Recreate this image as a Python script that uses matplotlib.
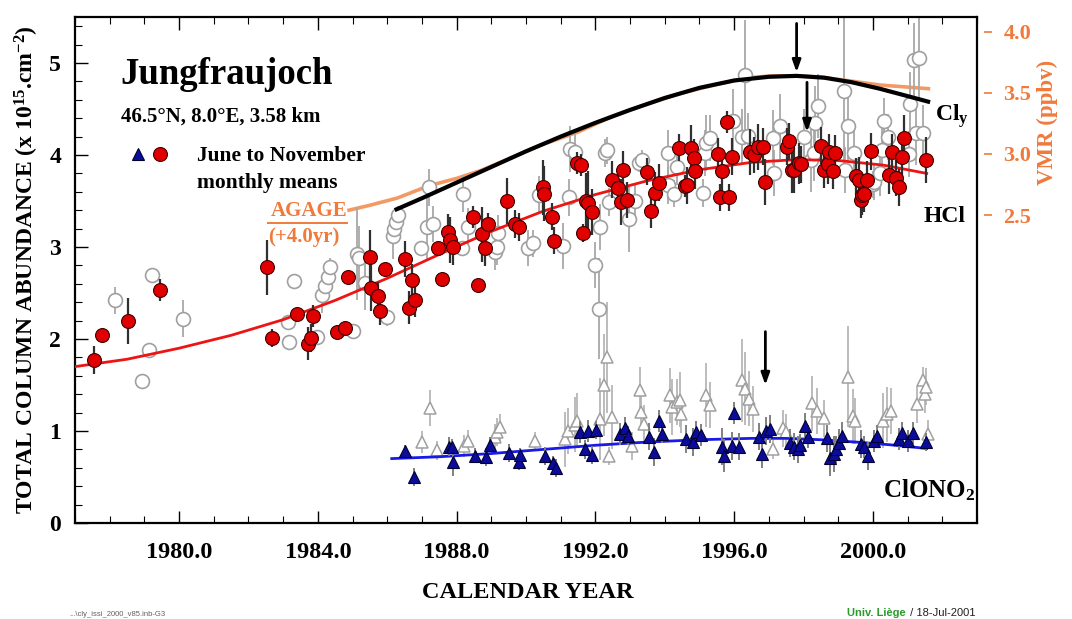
import matplotlib
matplotlib.use("Agg")
import matplotlib.pyplot as plt
from matplotlib.lines import Line2D
from matplotlib.legend_handler import HandlerTuple
from matplotlib.ticker import MultipleLocator, FixedLocator, FormatStrFormatter

# ---------------- data ----------------
# HCl, June-November monthly means (filled red)
hcl_jn_year = [1977.54, 1977.78, 1978.53, 1979.45, 1982.54, 1982.69, 1983.41, 1983.73, 1983.79, 1983.87,
               1984.54, 1984.77, 1984.88, 1985.49, 1985.52, 1985.72, 1985.80, 1985.93, 1986.50, 1986.62,
               1986.70, 1986.79, 1987.46, 1987.57, 1987.75, 1987.80, 1987.89, 1988.47, 1988.61, 1988.73,
               1988.82, 1988.90, 1989.45, 1989.68, 1989.80, 1990.49, 1990.52, 1990.76, 1990.80, 1991.47,
               1991.59, 1991.65, 1991.73, 1991.79, 1991.91, 1992.49, 1992.66, 1992.75, 1992.80, 1992.92,
               1993.50, 1993.61, 1993.73, 1993.84, 1994.42, 1994.57, 1994.65, 1994.77, 1994.83, 1994.88,
               1995.52, 1995.58, 1995.66, 1995.78, 1995.84, 1995.95, 1996.47, 1996.56, 1996.68, 1996.82,
               1996.88, 1997.51, 1997.57, 1997.66, 1997.72, 1997.86, 1997.92, 1998.50, 1998.58, 1998.70,
               1998.73, 1998.84, 1998.90, 1999.51, 1999.60, 1999.65, 1999.68, 1999.74, 1999.83, 1999.94,
               2000.46, 2000.55, 2000.66, 2000.75, 2000.84, 2000.90, 2001.53]
hcl_jn_val = [1.77, 2.04, 2.20, 2.53, 2.78, 2.01, 2.27, 1.95, 2.01, 2.25,
              2.08, 2.12, 2.67, 2.89, 2.55, 2.47, 2.30, 2.76, 2.87, 2.34,
              2.64, 2.42, 2.99, 2.65, 3.16, 3.08, 3.00, 3.33, 2.59, 3.14,
              2.99, 3.25, 3.50, 3.25, 3.22, 3.65, 3.58, 3.33, 3.07, 3.91,
              3.89, 3.15, 3.50, 3.48, 3.38, 3.73, 3.64, 3.49, 3.84, 3.51,
              3.82, 3.39, 3.59, 3.70, 4.08, 3.66, 3.67, 4.08, 3.97, 3.83,
              4.01, 3.54, 3.83, 4.36, 3.54, 3.98, 4.03, 4.00, 4.09, 4.09,
              3.71, 4.09, 4.15, 3.84, 3.84, 3.91, 3.90, 4.10, 3.84, 3.90,
              4.03, 3.83, 4.02, 3.77, 3.73, 3.51, 3.57, 3.58, 3.73, 4.04,
              3.78, 4.03, 3.75, 3.65, 3.98, 4.18, 3.95]
hcl_jn_err = [0.15, 0.06, 0.25, 0.12, 0.30, 0.10, 0.08, 0.18, 0.15, 0.12,
              0.05, 0.08, 0.05, 0.30, 0.25, 0.15, 0.15, 0.05, 0.20, 0.18,
              0.18, 0.18, 0.05, 0.05, 0.20, 0.25, 0.20, 0.12, 0.05, 0.30,
              0.20, 0.12, 0.25, 0.15, 0.15, 0.30, 0.30, 0.15, 0.15, 0.12,
              0.12, 0.10, 0.30, 0.35, 0.25, 0.20, 0.20, 0.25, 0.20, 0.20,
              0.15, 0.18, 0.22, 0.20, 0.15, 0.12, 0.20, 0.25, 0.20, 0.20,
              0.18, 0.15, 0.22, 0.12, 0.15, 0.20, 0.25, 0.20, 0.25, 0.20,
              0.25, 0.20, 0.20, 0.25, 0.25, 0.22, 0.20, 0.20, 0.20, 0.22,
              0.20, 0.20, 0.20, 0.20, 0.25, 0.20, 0.22, 0.20, 0.20, 0.20,
              0.20, 0.20, 0.20, 0.20, 0.25, 0.25, 0.25]

# HCl, other months (open grey)
hcl_oth_year = [1978.15, 1978.93, 1979.13, 1979.22, 1980.12, 1983.15, 1983.18, 1983.32, 1983.99, 1984.13,
                1984.22, 1984.28, 1984.36, 1985.00, 1985.14, 1985.20, 1985.35, 1985.98, 1986.16, 1986.20,
                1986.24, 1986.30, 1986.97, 1987.14, 1987.20, 1987.31, 1988.15, 1988.18, 1988.32, 1989.10,
                1989.16, 1989.19, 1990.06, 1990.20, 1990.38, 1991.07, 1991.24, 1991.27, 1991.42, 1991.99,
                1992.11, 1992.14, 1992.28, 1992.34, 1992.40, 1992.98, 1993.15, 1993.27, 1993.35, 1994.08,
                1994.10, 1994.28, 1994.34, 1995.09, 1995.17, 1995.20, 1995.29, 1995.98, 1996.24, 1996.30,
                1996.39, 1997.11, 1997.15, 1997.31, 1998.00, 1998.21, 1998.30, 1998.32, 1998.41, 1999.16,
                1999.20, 1999.28, 1999.45, 1999.99, 2000.03, 2000.20, 2000.26, 2000.32, 2000.43, 2001.04,
                2001.07, 2001.19, 2001.24, 2001.33, 2001.45]
hcl_oth_val = [2.42, 1.54, 1.88, 2.70, 2.22, 2.18, 1.97, 2.63, 2.02, 2.48,
               2.58, 2.67, 2.78, 2.09, 2.92, 2.88, 2.61, 2.24, 3.12, 3.20,
               3.27, 3.35, 2.99, 3.22, 3.65, 3.25, 2.99, 3.58, 3.22, 2.95,
               3.00, 3.15, 2.99, 3.04, 3.57, 3.01, 3.54, 4.07, 4.03, 2.80,
               2.33, 3.22, 4.02, 4.05, 3.49, 3.30, 3.50, 3.91, 3.95, 4.02,
               3.67, 3.58, 3.87, 3.59, 4.02, 4.13, 4.18, 4.37, 4.20, 4.87,
               4.21, 4.19, 3.80, 4.31, 4.20, 3.95, 4.02, 4.35, 4.53, 4.70,
               3.84, 4.32, 4.02, 3.68, 3.71, 3.80, 4.05, 4.37, 4.20, 4.01,
               4.55, 5.03, 4.24, 5.05, 4.24]
hcl_oth_err = [0.15, 0.05, 0.05, 0.05, 0.20, 0.05, 0.05, 0.05, 0.05, 0.20,
               0.10, 0.10, 0.10, 0.05, 0.50, 0.35, 0.30, 0.10, 0.25, 0.15,
               0.10, 0.10, 0.05, 0.35, 0.20, 0.20, 0.05, 0.20, 0.20, 0.20,
               0.20, 0.20, 0.20, 0.15, 0.20, 0.25, 0.20, 0.25, 0.20, 0.25,
               0.55, 0.25, 0.15, 0.15, 0.15, 0.35, 0.20, 0.10, 0.10, 0.25,
               0.20, 0.15, 0.20, 0.15, 0.25, 0.30, 0.25, 0.35, 0.30, 0.60,
               0.25, 0.30, 0.25, 0.35, 0.30, 0.35, 0.30, 0.40, 0.35, 0.80,
               0.25, 0.40, 0.30, 0.15, 0.20, 0.25, 0.30, 0.25, 0.25, 0.25,
               0.35, 0.40, 0.35, 0.45, 0.30]

# ClONO2, June-November (filled blue)
clono2_jn_year = [1986.50, 1986.76, 1987.77, 1987.86, 1987.90, 1988.53, 1988.84, 1988.96, 1989.51, 1989.80,
                  1989.83, 1990.55, 1990.78, 1990.87, 1991.56, 1991.70, 1991.79, 1991.90, 1992.02, 1992.72,
                  1992.86, 1992.95, 1993.55, 1993.70, 1993.82, 1993.93, 1994.60, 1994.80, 1994.91, 1995.03,
                  1995.64, 1995.72, 1995.94, 1996.00, 1996.14, 1996.73, 1996.79, 1996.91, 1997.02, 1997.60,
                  1997.72, 1997.83, 1997.89, 1998.03, 1998.12, 1998.67, 1998.76, 1998.87, 1998.93, 1999.02,
                  1999.10, 1999.65, 1999.74, 1999.86, 2000.03, 2000.12, 2000.75, 2000.84, 2001.01, 2001.16,
                  2001.53]
clono2_jn_val = [0.78, 0.50, 0.83, 0.83, 0.66, 0.73, 0.72, 0.85, 0.76, 0.66,
                 0.74, 0.73, 0.65, 0.60, 0.99, 0.80, 1.00, 0.74, 1.01, 0.97,
                 1.03, 0.95, 0.94, 0.77, 1.11, 0.97, 0.91, 0.88, 0.99, 0.96,
                 0.83, 0.73, 0.84, 1.20, 0.83, 0.94, 0.75, 1.00, 1.02, 0.87,
                 0.83, 0.80, 0.85, 1.05, 0.94, 0.92, 0.71, 0.75, 0.80, 0.87,
                 0.95, 0.86, 0.83, 0.73, 0.89, 0.95, 0.91, 0.98, 0.89, 0.98,
                 0.88]
clono2_jn_err = [0.07, 0.10, 0.10, 0.08, 0.15, 0.08, 0.10, 0.08, 0.10, 0.08,
                 0.08, 0.10, 0.08, 0.10, 0.12, 0.10, 0.12, 0.10, 0.10, 0.12,
                 0.12, 0.10, 0.15, 0.15, 0.12, 0.10, 0.15, 0.15, 0.12, 0.12,
                 0.20, 0.18, 0.15, 0.12, 0.15, 0.15, 0.15, 0.15, 0.15, 0.15,
                 0.15, 0.15, 0.12, 0.15, 0.12, 0.15, 0.20, 0.20, 0.15, 0.15,
                 0.15, 0.15, 0.12, 0.15, 0.12, 0.12, 0.12, 0.12, 0.12, 0.12,
                 0.10]

# ClONO2, other months (open grey)
clono2_oth_year = [1986.99, 1987.23, 1987.43, 1988.21, 1988.33, 1989.10, 1989.16, 1989.25, 1990.26, 1991.13,
                   1991.21, 1991.41, 1991.47, 1992.14, 1992.26, 1992.34, 1992.40, 1992.48, 1993.06, 1993.29,
                   1993.32, 1993.41, 1994.16, 1994.22, 1994.34, 1994.45, 1994.48, 1995.20, 1995.29, 1996.24,
                   1996.30, 1996.44, 1996.53, 1997.11, 1997.40, 1997.50, 1998.24, 1998.38, 1998.58, 1999.28,
                   1999.42, 1999.48, 2000.29, 2000.40, 2000.52, 2001.27, 2001.45, 2001.50, 2001.53, 2001.60]
clono2_oth_val = [0.88, 1.25, 0.79, 0.84, 0.89, 0.93, 0.99, 1.04, 0.89, 0.91,
                  1.00, 1.07, 1.11, 1.13, 1.50, 1.80, 0.73, 1.15, 0.84, 1.45,
                  1.21, 1.08, 1.39, 1.26, 1.32, 1.34, 1.18, 1.39, 1.28, 1.55,
                  1.46, 1.35, 1.24, 0.80, 1.03, 0.99, 1.30, 1.22, 1.14, 1.59,
                  1.16, 1.11, 1.11, 1.18, 1.22, 1.29, 1.55, 1.40, 1.48, 0.97]
clono2_oth_err = [0.12, 0.20, 0.10, 0.12, 0.12, 0.15, 0.15, 0.15, 0.10, 0.30,
                  0.25, 0.30, 0.30, 0.45, 0.55, 0.60, 0.10, 0.35, 0.15, 0.25,
                  0.20, 0.20, 0.30, 0.30, 0.25, 0.30, 0.20, 0.35, 0.25, 0.45,
                  0.40, 0.30, 0.25, 0.10, 0.20, 0.20, 0.30, 0.25, 0.20, 0.55,
                  0.30, 0.25, 0.30, 0.30, 0.25, 0.20, 0.15, 0.20, 0.20, 0.15]

# Fitted curves
hcl_fit_year = [1977.0, 1978.5, 1980.0, 1981.5, 1983.0, 1984.5, 1986.0, 1987.5, 1989.0, 1990.5,
                1992.0, 1993.5, 1995.0, 1996.5, 1997.8, 1999.0, 2000.3, 2001.55]
hcl_fit_val = [1.70, 1.78, 1.90, 2.04, 2.21, 2.42, 2.66, 2.92, 3.17, 3.39,
               3.57, 3.72, 3.84, 3.92, 3.95, 3.94, 3.89, 3.80]

cly_year = [1986.27, 1987.0, 1988.0, 1989.0, 1990.0, 1991.0, 1992.0, 1993.0, 1994.0, 1995.0,
            1996.0, 1997.0, 1997.8, 1998.6, 1999.4, 2000.2, 2000.9, 2001.59]
cly_val = [3.41, 3.53, 3.70, 3.87, 4.04, 4.20, 4.35, 4.49, 4.62, 4.73,
           4.81, 4.85, 4.86, 4.84, 4.79, 4.72, 4.65, 4.58]

clono2_fit_year = [1986.13, 1987.5, 1989.0, 1990.5, 1992.0, 1993.5, 1995.0, 1996.5, 1997.5, 1998.5,
                   1999.5, 2000.5, 2001.55]
clono2_fit_val = [0.70, 0.72, 0.755, 0.80, 0.845, 0.88, 0.905, 0.92, 0.92, 0.905,
                  0.88, 0.85, 0.81]

# AGAGE (+4.0 yr), in ppbv on the right axis
agage_year = [1984.9, 1985.5, 1986.3, 1987.2, 1988.0, 1988.7, 1989.5, 1990.4, 1991.5, 1992.5,
              1993.5, 1994.5, 1995.5, 1996.4, 1997.1, 1997.8, 1998.5, 1999.3, 2000.2, 2000.9, 2001.6]
agage_vmr = [2.54, 2.58, 2.64, 2.74, 2.80, 2.865, 2.96, 3.07, 3.18, 3.31,
             3.41, 3.50, 3.57, 3.625, 3.64, 3.64, 3.63, 3.60, 3.565, 3.55, 3.535]

# Arrows (year, top, tip)
arrow_year = [1997.8, 1998.1, 1996.9]
arrow_top = [5.43, 4.79, 2.08]
arrow_tip = [4.90, 4.25, 1.50]

x_major = [1980, 1984, 1988, 1992, 1996, 2000]
vmr_ticks = [2.5, 3.0, 3.5, 4.0]

# ---------------- style ----------------
SERIF = "Liberation Serif"
plt.rcParams["font.family"] = [SERIF, "DejaVu Serif"]
plt.rcParams["font.weight"] = "bold"
plt.rcParams["mathtext.fontset"] = "custom"
plt.rcParams["mathtext.rm"] = "Liberation Serif:bold"
plt.rcParams["mathtext.it"] = "Liberation Serif:bold"
plt.rcParams["mathtext.bf"] = "Liberation Serif:bold"
plt.rcParams["mathtext.default"] = "rm"

RED = "#e00000"
BLUE = "#0c0c9c"
ORANGE = "#f07a3c"
AGAGE_LINE = "#f39a64"
GREY_OPEN = "#a0a0a0"

W, H = 1072, 619
fig = plt.figure(figsize=(W / 100, H / 100), dpi=100)
ax = fig.add_axes([75 / W, 1 - 523 / H, (977 - 75) / W, (523 - 17) / H])


def fx(px):
    return px / W


def fy(py):
    return 1 - py / H


# open (other months) points
ax.errorbar(hcl_oth_year, hcl_oth_val, yerr=hcl_oth_err, fmt="o", ms=10, mfc="white",
            mec=GREY_OPEN, mew=1.2, ecolor="#a8a8a8", elinewidth=1.3, capsize=0, zorder=2)
ax.errorbar(clono2_oth_year, clono2_oth_val, yerr=clono2_oth_err, fmt="^", ms=8.5, mfc="white",
            mec=GREY_OPEN, mew=1.1, ecolor="#b0b0b0", elinewidth=1.2, capsize=0, zorder=2)

# fitted curves
ax.plot(hcl_fit_year, hcl_fit_val, color="#ee1414", lw=2.0, zorder=3)
ax.plot(cly_year, cly_val, color="black", lw=3.0, zorder=4)
ax.plot(clono2_fit_year, clono2_fit_val, color="#1a1ae6", lw=2.0, zorder=3)

# June-November points
ax.errorbar(clono2_jn_year, clono2_jn_val, yerr=clono2_jn_err, fmt="^", ms=8.5, mfc=BLUE,
            mec="#000030", mew=0.8, ecolor="#808080", elinewidth=1.4, capsize=0, zorder=5)
ax.errorbar(hcl_jn_year, hcl_jn_val, yerr=hcl_jn_err, fmt="o", ms=10, mfc=RED,
            mec="#400000", mew=0.8, ecolor="#303030", elinewidth=1.6, capsize=0, zorder=5)

# arrows
for xa, yt, yb in zip(arrow_year, arrow_top, arrow_tip):
    ax.annotate("", xy=(xa, yb), xytext=(xa, yt),
                arrowprops=dict(arrowstyle="-|>,head_length=0.7,head_width=0.25", lw=2.0,
                                color="black", shrinkA=0, shrinkB=0), zorder=6)

# axes
ax.set_xlim(1977.0, 2003.0)
ax.set_ylim(0, 5.5)
ax.xaxis.set_major_locator(FixedLocator(x_major))
ax.xaxis.set_minor_locator(MultipleLocator(1))
ax.xaxis.set_major_formatter(FormatStrFormatter("%.1f"))
ax.yaxis.set_major_locator(MultipleLocator(1))
ax.yaxis.set_minor_locator(MultipleLocator(0.2))
ax.tick_params(axis="both", which="both", direction="in", top=True, right=False)
ax.tick_params(axis="both", which="major", length=9, width=1.0)
ax.tick_params(axis="both", which="minor", length=5, width=0.8)
ax.tick_params(axis="x", which="major", pad=14, labelsize=17.5)
ax.tick_params(axis="y", which="major", pad=10, labelsize=17)
for lab in ax.get_xticklabels() + ax.get_yticklabels():
    lab.set_fontweight("bold")
for s in ax.spines.values():
    s.set_linewidth(1.6)

# right axis (VMR)
ax2 = ax.twinx()
ax2.set_ylim((0 - 0.03) / 1.327, (5.5 - 0.03) / 1.327)
ax2.plot(agage_year, agage_vmr, color=AGAGE_LINE, lw=2.6, zorder=1)
ax2.set_zorder(0)
ax.set_zorder(1)
ax.patch.set_visible(False)
ax2.yaxis.set_major_locator(FixedLocator(vmr_ticks))
ax2.yaxis.set_major_formatter(FormatStrFormatter("%.1f"))
ax2.spines["right"].set_position(("outward", 5))
ax2.spines["right"].set_visible(False)
for k in ("left", "top", "bottom"):
    ax2.spines[k].set_visible(False)
ax2.tick_params(axis="y", which="major", direction="out", length=6, width=1.2, color=ORANGE,
                labelcolor=ORANGE, labelsize=16, pad=8)
for lab in ax2.get_yticklabels():
    lab.set_fontweight("bold")

# legend
h_tri = Line2D([], [], ls="none", marker="^", ms=8.5, mfc=BLUE, mec="#000030", mew=0.8)
h_circ = Line2D([], [], ls="none", marker="o", ms=10, mfc=RED, mec="#400000", mew=0.8)
h_blank = Line2D([], [], ls="none")
ax.legend([(h_tri, h_circ), h_blank], ["June to November", "monthly means"],
          handler_map={tuple: HandlerTuple(ndivide=None, pad=0)},
          loc="upper left", bbox_to_anchor=((127 - 75) / 902, (523 - 146) / 506),
          frameon=False, prop=dict(family=SERIF, weight="bold", size=15.5),
          handlelength=2.05, handletextpad=1.2, labelspacing=0.3, borderpad=0, borderaxespad=0)

# texts
fig.text(fx(120), fy(75), "Jungfraujoch", fontsize=26.5, fontweight="bold", ha="left", va="center")
fig.text(fx(121), fy(117), "46.5°N, 8.0°E, 3.58 km", fontsize=15, fontweight="bold",
         ha="left", va="center")
fig.text(fx(347), fy(211), "AGAGE", fontsize=15, fontweight="bold", color=ORANGE,
         ha="right", va="center")
fig.add_artist(Line2D([fx(268), fx(347)], [fy(223), fy(223)], color=ORANGE, lw=1.4))
fig.text(fx(268), fy(237), "(+4.0yr)", fontsize=15, fontweight="bold", color=ORANGE,
         ha="left", va="center")
fig.text(fx(935), fy(116), r"Cl$_\mathregular{y}$", fontsize=17, fontweight="bold",
         ha="left", va="center")
fig.text(fx(924), fy(217), "HCl", fontsize=17, fontweight="bold", ha="left", va="center")
fig.text(fx(975), fy(490), r"ClONO$_\mathregular{2}$", fontsize=18, fontweight="bold",
         ha="right", va="center")

fig.text(fx(528), fy(592), "CALENDAR YEAR", fontsize=17.5, fontweight="bold",
         ha="center", va="center")
fig.text(fx(27), fy(270), r"TOTAL COLUMN ABUNDANCE (x 10$^{15}$.cm$^{-2}$)", fontsize=17,
         fontweight="bold", rotation=90, ha="center", va="center")
fig.text(fx(1047), fy(122), "VMR (ppbv)", fontsize=16.5, fontweight="bold", color=ORANGE,
         rotation=90, ha="center", va="center")

fig.text(fx(69), fy(614), "...\\cly_issi_2000_v85.inb-G3", fontsize=5.5, color="#606060",
         family="Liberation Sans", fontweight="normal", ha="left", va="center")
fig.text(fx(906), fy(613), "Univ. Liège", fontsize=8, color="#2a9a2a", family="Liberation Sans",
         fontweight="bold", ha="right", va="center")
fig.text(fx(907), fy(613), " / 18-Jul-2001", fontsize=8, color="#202020", family="Liberation Sans",
         fontweight="normal", ha="left", va="center")

fig.savefig("out.png", dpi=100, facecolor="white")
